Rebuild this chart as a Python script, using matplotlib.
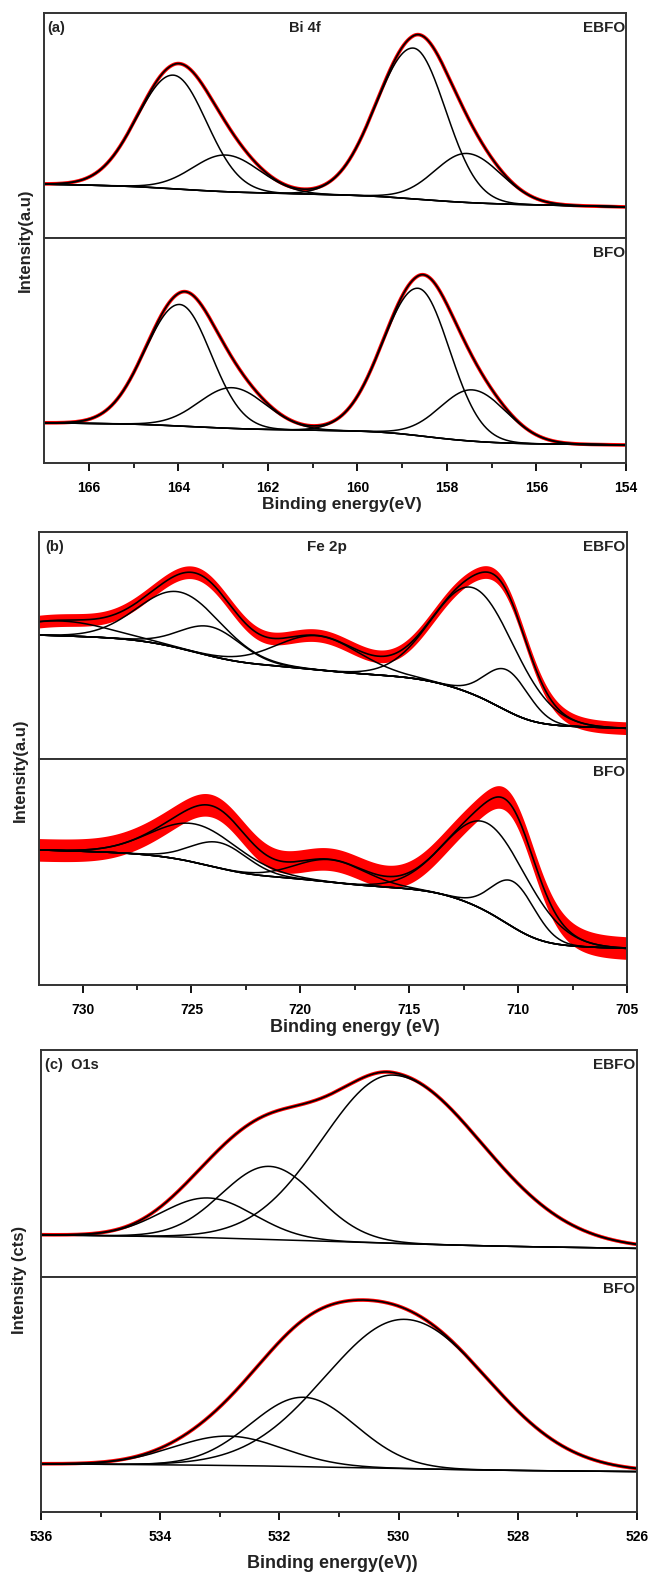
import math
import numpy as np
import matplotlib
matplotlib.use('Agg')
import matplotlib.pyplot as plt

plt.rcParams['font.family'] = ['Liberation Sans', 'DejaVu Sans']
plt.rcParams['font.weight'] = 'bold'

# ---------------- data ----------------
# each spectrum: peak centre (eV), height above background, width on the
# high-BE side, width on the low-BE side, Shirley-like step, [bg level at low-BE end, slope]

# (a) Bi 4f
bi_range = [167, 154]
bi_ticks = [166, 164, 162, 160, 158, 156, 154]

bi_ebfo_pos = [157.55, 158.75, 162.94, 164.11]
bi_ebfo_hgt = [21.8, 67.0, 16.3, 50.5]
bi_ebfo_whi = [0.72, 0.84, 0.74, 0.82]
bi_ebfo_wlo = [0.76, 0.72, 0.76, 0.74]
bi_ebfo_step = [0.5, 2.0, 0.3, 1.5]
bi_ebfo_bg = [13.8, 0.45]

bi_bfo_pos = [157.43, 158.64, 162.8, 163.97]
bi_bfo_hgt = [22.8, 65.5, 18.1, 54.0]
bi_bfo_whi = [0.72, 0.8, 0.74, 0.78]
bi_bfo_wlo = [0.76, 0.7, 0.76, 0.7]
bi_bfo_step = [1.3, 3.5, 0.6, 1.2]
bi_bfo_bg = [8.0, 0.25]

# (b) Fe 2p
fe_range = [732, 705]
fe_ticks = [730, 725, 720, 715, 710, 705]

fe_ebfo_pos = [710.5, 712.0, 719.2, 724.1, 725.5, 731.0]
fe_ebfo_hgt = [18.0, 47.0, 15.0, 12.9, 24.8, 6.5]
fe_ebfo_whi = [1.0, 1.9, 1.9, 1.4, 1.9, 2.2]
fe_ebfo_wlo = [1.0, 1.9, 1.9, 1.4, 1.9, 2.2]
fe_ebfo_step = [6.0, 14.0, 3.0, 3.0, 7.0, 0.0]
fe_ebfo_bg = [13.5, 0.3]

fe_bfo_pos = [710.2, 711.4, 718.6, 723.7, 724.8]
fe_bfo_hgt = [20.2, 39.2, 9.9, 11.3, 17.0]
fe_bfo_whi = [1.0, 1.9, 1.6, 1.3, 2.0]
fe_bfo_wlo = [1.0, 1.9, 1.6, 1.3, 2.0]
fe_bfo_step = [6.0, 18.0, 3.0, 3.0, 6.0]
fe_bfo_bg = [16.2, 0.28]

# (c) O 1s
o_range = [536, 526]
o_ticks = [536, 534, 532, 530, 528, 526]

o_ebfo_pos = [530.1, 532.17, 533.2]
o_ebfo_hgt = [74.1, 32.2, 17.5]
o_ebfo_whi = [1.18, 0.8, 0.78]
o_ebfo_wlo = [1.5, 0.8, 0.78]
o_ebfo_step = [1.4, 0.5, 0.3]
o_ebfo_bg = [12.6, 0.38]

o_bfo_pos = [529.9, 531.6, 532.86]
o_bfo_hgt = [63.5, 29.5, 12.5]
o_bfo_whi = [1.33, 0.88, 0.92]
o_bfo_wlo = [1.4, 0.88, 0.92]
o_bfo_step = [1.0, 0.2, 0.1]
o_bfo_bg = [17.2, 0.2]

# ---------------- figure ----------------
W, H = 652, 1573
fig = plt.figure(figsize=(W / 100, H / 100), dpi=100)
verf = np.vectorize(math.erf)


def px_axes(l, t, r, b):
    return fig.add_axes([l / W, 1 - b / H, (r - l) / W, (b - t) / H])


def fit_curves(x, pos, hgt, whi, wlo, step, bg):
    back = bg[0] + bg[1] * (x - x.min())
    for c, s1, s2, t in zip(pos, whi, wlo, step):
        back = back + t * 0.5 * (1 + verf((x - c) / ((s1 + s2) / 2 * math.sqrt(2))))
    comps = []
    for c, h, s1, s2 in zip(pos, hgt, whi, wlo):
        s = np.where(x >= c, s1, s2)
        comps.append(h * np.exp(-(x - c) ** 2 / (2 * s ** 2)))
    env = back + np.sum(comps, axis=0)
    return back, comps, env


def spectrum(ax, xr, pos, hgt, whi, wlo, step, bg, noise=0):
    x = np.linspace(min(xr), max(xr), 1600)
    back, comps, env = fit_curves(x, pos, hgt, whi, wlo, step, bg)
    if noise > 0:
        ax.fill_between(x, env - noise, env + noise, color='red', lw=0)
    else:
        ax.plot(x, env, color='red', lw=2.6)
    for c in comps:
        ax.plot(x, back + c, color='black', lw=1.1)
    ax.plot(x, back, color='black', lw=1.1)
    ax.plot(x, env, color='black', lw=1.2)
    ax.set_xlim(xr[0], xr[1])
    ax.set_ylim(0, 100)
    ax.set_yticks([])
    for sp in ax.spines.values():
        sp.set_linewidth(1.4)
        sp.set_color('#333333')


def panel(box, xr, ticks, minor, top_data, bot_data, noise_top=0, noise_bot=0):
    l, t, m, r, b = box
    ax1 = px_axes(l, t, r, m)
    ax2 = px_axes(l, m, r, b)
    spectrum(ax1, xr, *top_data, noise=noise_top)
    spectrum(ax2, xr, *bot_data, noise=noise_bot)
    ax1.set_xticks([])
    ax2.set_xticks(ticks)
    ax2.set_xticks(minor, minor=True)
    ax2.tick_params(axis='x', which='major', direction='out', length=6, width=1.3,
                    labelsize=10, pad=7)
    ax2.tick_params(axis='x', which='minor', direction='out', length=3.5, width=1.2)
    for lab in ax2.get_xticklabels():
        lab.set_fontweight('bold')
    return ax1, ax2


def txt(x, y, s, ha='left', size=11, rot=0):
    fig.text(x / W, 1 - y / H, s, ha=ha, va='center', fontsize=size,
             fontweight='bold', rotation=rot, color='#222222')


# (a)
panel((44, 13, 238, 626, 463), bi_range, bi_ticks, [165, 163, 161, 159, 157, 155],
      (bi_ebfo_pos, bi_ebfo_hgt, bi_ebfo_whi, bi_ebfo_wlo, bi_ebfo_step, bi_ebfo_bg),
      (bi_bfo_pos, bi_bfo_hgt, bi_bfo_whi, bi_bfo_wlo, bi_bfo_step, bi_bfo_bg))
txt(47, 28, '(a)', size=10.5)
txt(305, 28, 'Bi 4f', ha='center', size=10.5)
txt(625, 28, 'EBFO', ha='right')
txt(625, 253, 'BFO', ha='right')
txt(25, 240, 'Intensity(a.u)', ha='center', size=12, rot=90)
txt(342, 505, 'Binding energy(eV)', ha='center', size=12.5)

# (b)
panel((39, 532, 759, 627, 985), fe_range, fe_ticks, [727.5, 722.5, 717.5, 712.5, 707.5],
      (fe_ebfo_pos, fe_ebfo_hgt, fe_ebfo_whi, fe_ebfo_wlo, fe_ebfo_step, fe_ebfo_bg),
      (fe_bfo_pos, fe_bfo_hgt, fe_bfo_whi, fe_bfo_wlo, fe_bfo_step, fe_bfo_bg),
      noise_top=2.8, noise_bot=5.0)
txt(45, 547, '(b)', size=10.5)
txt(327, 547, 'Fe 2p', ha='center', size=11)
txt(625, 547, 'EBFO', ha='right')
txt(625, 772, 'BFO', ha='right')
txt(20, 770, 'Intensity(a.u)', ha='center', size=12, rot=90)
txt(355, 1028, 'Binding energy (eV)', ha='center', size=13)

# (c)
panel((41, 1050, 1277, 637, 1512), o_range, o_ticks, [535, 533, 531, 529, 527],
      (o_ebfo_pos, o_ebfo_hgt, o_ebfo_whi, o_ebfo_wlo, o_ebfo_step, o_ebfo_bg),
      (o_bfo_pos, o_bfo_hgt, o_bfo_whi, o_bfo_wlo, o_bfo_step, o_bfo_bg))
txt(45, 1065, '(c)  O1s', size=10.5)
txt(635, 1065, 'EBFO', ha='right')
txt(635, 1289, 'BFO', ha='right')
txt(20, 1280, 'Intensity (cts)', ha='center', size=12, rot=90)
txt(332, 1563, 'Binding energy(eV))', ha='center', size=13)

fig.savefig('out.png', dpi=100)
